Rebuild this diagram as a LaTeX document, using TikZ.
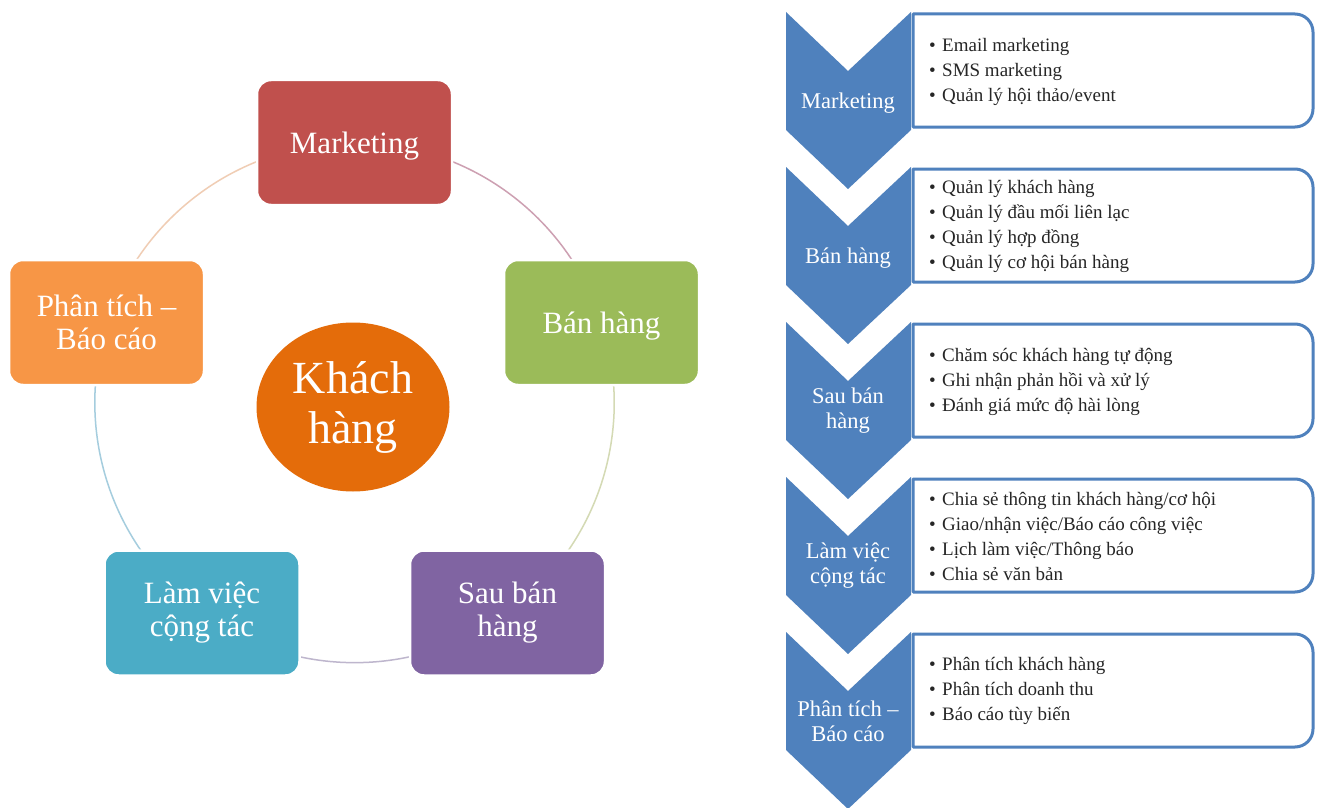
\documentclass[tikz,border=0pt]{standalone}
\usepackage{fontspec}
\setmainfont{Liberation Serif}
\usetikzlibrary{shapes.geometric,backgrounds}
\definecolor{cmk}{HTML}{C0504D}
\definecolor{cbh}{HTML}{9BBB59}
\definecolor{csb}{HTML}{8064A2}
\definecolor{clv}{HTML}{4BACC6}
\definecolor{cpt}{HTML}{F79646}
\definecolor{ckh}{HTML}{E46C0A}
\definecolor{cchev}{HTML}{4F81BD}
\definecolor{ra}{RGB}{205,160,178}
\definecolor{rb}{RGB}{212,218,180}
\definecolor{rc}{RGB}{190,182,205}
\definecolor{rd}{RGB}{165,205,222}
\definecolor{re}{RGB}{240,205,180}
\begin{document}
\begin{tikzpicture}[x=1pt,y=-1pt,
  cbox/.style={rectangle, rounded corners=14pt, minimum width=195pt, minimum height=125pt,
    draw=white, line width=2.5pt, text=white, align=center,
    font=\fontsize{31}{33}\selectfont, inner sep=0pt},
  ring/.style={line width=1.5pt},
  chevlab/.style={text=white, align=center, font=\fontsize{22.5}{25}\selectfont, inner sep=0pt},
  listbox/.style={draw=cchev, line width=3pt, fill=white, line join=round},
  listtxt/.style={anchor=west, align=left, font=\fontsize{19}{25}\selectfont, inner sep=0pt, text=black!85}]
\useasboundingbox (0,0) rectangle (1318,808);

% ---- left cycle ----
\node[cbox, fill=cmk, text depth=0pt] (mk) at (354.5,142.5) {Marketing};
\node[cbox, fill=cbh, text depth=0pt] (bh) at (601.5,322.5) {Bán hàng};
\node[cbox, fill=csb] (sb) at (507.5,613) {Sau bán\\hàng};
\node[cbox, fill=clv] (lv) at (202,613) {Làm việc\\cộng tác};
\node[cbox, fill=cpt] (pt) at (106.5,322.5) {Phân tích –\\Báo cáo};
\node[ellipse, fill=ckh, minimum width=193pt, minimum height=169pt, inner sep=0pt,
  text=white, align=center, font=\fontsize{46}{50}\selectfont] (kh) at (353,407) {Khách\\hàng};

\begin{scope}[on background layer]
\fill[white] (0,0) rectangle (1318,808);
\draw[ring, ra] (mk.center) arc[start angle=-90, end angle=-18, radius=260];
\draw[ring, rb] (bh.center) arc[start angle=-18, end angle=54, radius=260];
\draw[ring, rc] (sb.center) arc[start angle=54, end angle=126, radius=260];
\draw[ring, rd] (lv.center) arc[start angle=126, end angle=198, radius=260];
\draw[ring, re] (pt.center) arc[start angle=198, end angle=270, radius=260];
\end{scope}

% ---- right chevron list ----
\foreach \y in {12,167,322,477,632}{
  \fill[cchev] (786,\y) -- (848,\y+59) -- (911,\y) -- (911,\y+118) -- (848,\y+177) -- (786,\y+118) -- cycle;
  \draw[listbox] (913,\y+2) -- (1295,\y+2) arc[start angle=-90, end angle=0, radius=18]
    -- (1313,\y+97) arc[start angle=0, end angle=90, radius=18] -- (913,\y+115) -- cycle;
}
\node[chevlab] (c1) at (848,103) {Marketing};
\node[chevlab] (c2) at (848,258) {Bán hàng};
\node[chevlab] (c3) at (848,411) {Sau bán\\hàng};
\node[chevlab] (c4) at (848,566) {Làm việc\\cộng tác};
\node[chevlab] (c5) at (848,721) {Phân tích –\\Báo cáo};

\newcommand{\bul}{\makebox[13pt][l]{•}}
\node[listtxt] (t1) at (929,72) {\bul Email marketing\\\bul SMS marketing\\\bul Quản lý hội thảo/event};
\node[listtxt] (t2) at (929,226) {\bul Quản lý khách hàng\\\bul Quản lý đầu mối liên lạc\\\bul Quản lý hợp đồng\\\bul Quản lý cơ hội bán hàng};
\node[listtxt] (t3) at (929,382) {\bul Chăm sóc khách hàng tự động\\\bul Ghi nhận phản hồi và xử lý\\\bul Đánh giá mức độ hài lòng};
\node[listtxt] (t4) at (929,536) {\bul Chia sẻ thông tin khách hàng/cơ hội\\\bul Giao/nhận việc/Báo cáo công việc\\\bul Lịch làm việc/Thông báo\\\bul Chia sẻ văn bản};
\node[listtxt] (t5) at (929,691) {\bul Phân tích khách hàng\\\bul Phân tích doanh thu\\\bul Báo cáo tùy biến};
\end{tikzpicture}
\end{document}
